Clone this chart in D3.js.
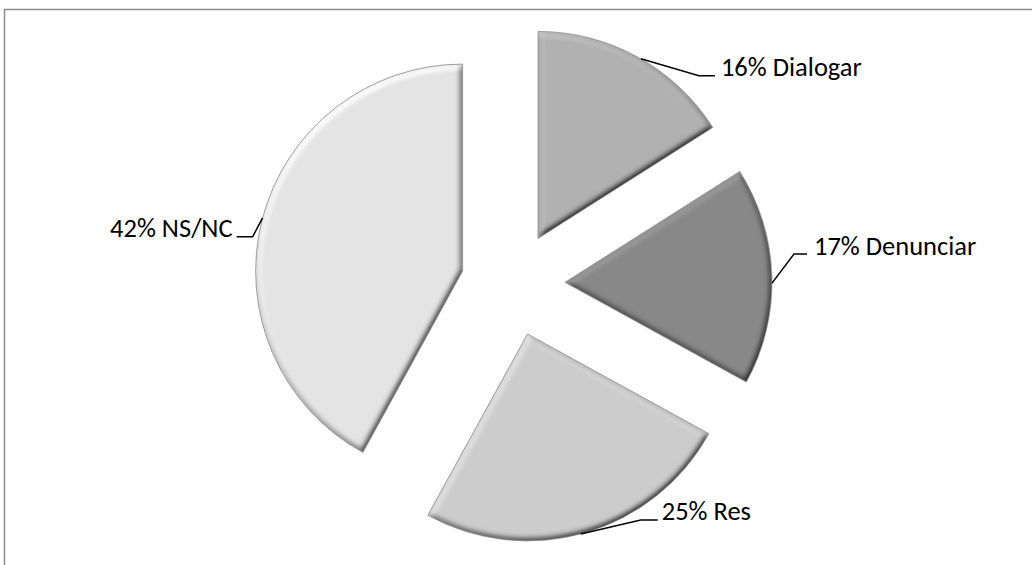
<!DOCTYPE html>
<html>
<head>
<meta charset="utf-8">
<script src="https://cdn.jsdelivr.net/npm/d3@7/dist/d3.min.js"></script>
<style>
  html, body { margin: 0; padding: 0; background: #fff; }
  svg { display: block; }
  .label { font-family: Carlito, Calibri, Lato, "Open Sans", sans-serif; font-size: 26.5px; fill: #000; }
</style>
</head>
<body>
<svg id="chart" width="1032" height="565"></svg>
<script>
// Survey answers (percent of respondents)
const categories = ["Dialogar", "Denunciar", "Res", "NS/NC"];
const values = [16, 17, 25, 42];
const fills = ["#b1b1b1", "#888888", "#cccccc", "#e4e4e4"];

// Geometry of the exploded pie
const W = 1032, H = 565;
const cx = 513, cy = 284;
const radius = 207;
const explode = 52;

// Leader line layout per slice: small angular nudge of the anchor on the rim,
// elbow offset from the anchor, horizontal run and text gap.
const labelLayout = [
  { nudge: 1.0, elbow: [58, 17],  run: 16, gap: 6 },
  { nudge: 2.0, elbow: [22, -29], run: 13, gap: 7 },
  { nudge: 1.3, elbow: [60, -14], run: 17, gap: 4 },
  { nudge: 0.5, elbow: [-10, 19], run: -16, gap: 4 }
];

const svg = d3.select("#chart");

// chart area frame (only top and left edges fall inside the view)
svg.append("rect")
  .attr("x", 4.5).attr("y", 9.5)
  .attr("width", W + 40).attr("height", H + 40)
  .attr("fill", "#fff")
  .attr("stroke", "#8c8c8c")
  .attr("stroke-width", 1.5);

// soft bevel: lit from the upper left
const defs = svg.append("defs");
const f = defs.append("filter").attr("id", "bevel")
  .attr("x", "-10%").attr("y", "-10%").attr("width", "120%").attr("height", "120%");
f.append("feGaussianBlur").attr("in", "SourceAlpha").attr("stdDeviation", 3.2).attr("result", "blur");
const dl = f.append("feDiffuseLighting").attr("in", "blur")
  .attr("surfaceScale", 5).attr("diffuseConstant", 1)
  .attr("lighting-color", "#ffffff").attr("result", "light");
dl.append("feDistantLight").attr("azimuth", 235).attr("elevation", 55);
f.append("feComposite").attr("in", "SourceGraphic").attr("in2", "light")
  .attr("operator", "arithmetic")
  .attr("k1", 1 / Math.sin(55 * Math.PI / 180)).attr("k2", 0).attr("k3", 0).attr("k4", 0)
  .attr("result", "lit");
f.append("feComposite").attr("in", "lit").attr("in2", "SourceAlpha").attr("operator", "in");

const pie = d3.pie().sort(null).value(d => d.value).startAngle(0);
const data = pie(categories.map((c, i) => ({ name: c, value: values[i], fill: fills[i] })));

const arc = d3.arc().innerRadius(0).outerRadius(radius);

const offset = d => {
  const mid = (d.startAngle + d.endAngle) / 2;
  return [explode * Math.sin(mid), -explode * Math.cos(mid)];
};

const g = svg.append("g").attr("transform", `translate(${cx},${cy})`);

g.selectAll("path.slice")
  .data(data)
  .join("path")
  .attr("class", "slice")
  .attr("transform", d => `translate(${offset(d)})`)
  .attr("d", arc)
  .attr("fill", d => d.data.fill)
  .attr("filter", "url(#bevel)");

g.selectAll("path.edge")
  .data(data)
  .join("path")
  .attr("class", "edge")
  .attr("transform", d => `translate(${offset(d)})`)
  .attr("d", arc)
  .attr("fill", "none")
  .attr("stroke", "#8a8a8a")
  .attr("stroke-width", 0.8);

// labels with leader lines
const labels = g.selectAll("g.lbl")
  .data(data)
  .join("g")
  .attr("class", "lbl");

labels.each(function (d, i) {
  const L = labelLayout[i];
  const [ox, oy] = offset(d);
  const a = (d.startAngle + d.endAngle) / 2 + L.nudge * Math.PI / 180;
  const ax = ox + radius * Math.sin(a), ay = oy - radius * Math.cos(a);
  const ex = ax + L.elbow[0], ey = ay + L.elbow[1];
  const hx = ex + L.run;
  const sel = d3.select(this);
  sel.append("polyline")
    .attr("points", [[ax, ay], [ex, ey], [hx, ey]].map(p => p.join(",")).join(" "))
    .attr("fill", "none")
    .attr("stroke", "#000")
    .attr("stroke-width", 1.5);
  const right = L.run > 0;
  sel.append("text")
    .attr("class", "label")
    .attr("x", right ? hx + L.gap : hx - L.gap)
    .attr("y", ey + 0.5)
    .attr("text-anchor", right ? "start" : "end")
    .text(`${d.data.value}% ${d.data.name}`);
});
</script>
</body>
</html>
